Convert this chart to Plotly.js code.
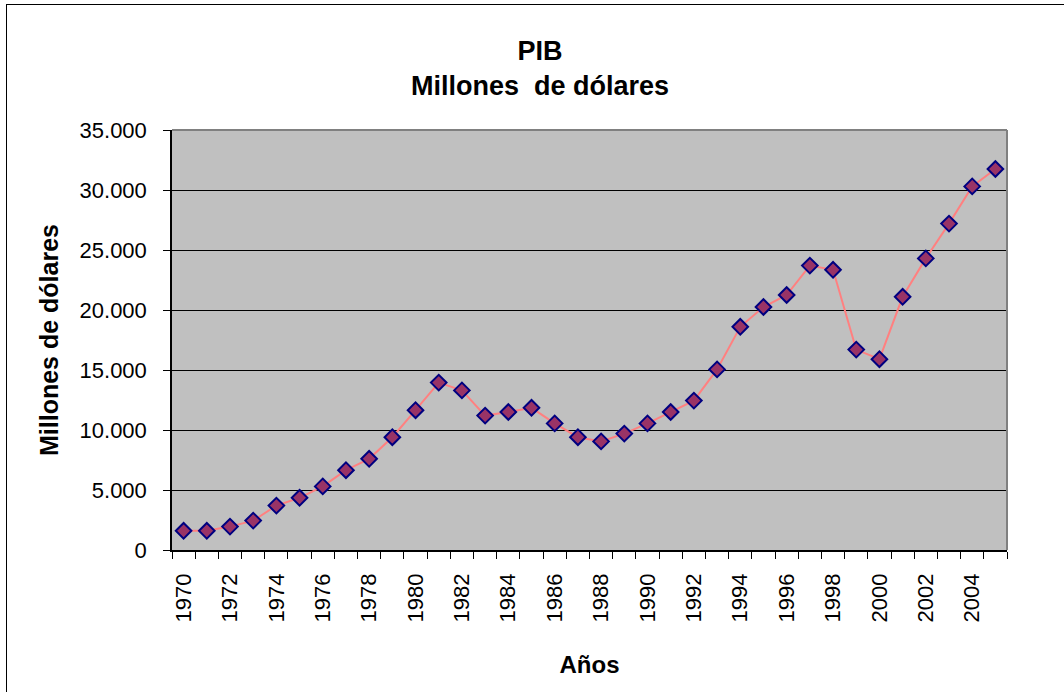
<!DOCTYPE html>
<html>
<head>
<meta charset="utf-8">
<script src="https://cdn.plot.ly/plotly-3.0.1.min.js"></script>
<style>
html,body{margin:0;padding:0;background:#fff;overflow:hidden;}
#frame{position:absolute;left:6px;top:4px;width:1100px;height:720px;border:1.5px solid #000;box-sizing:border-box;pointer-events:none;}
#chart{position:absolute;left:0;top:0;width:1064px;height:692px;}
</style>
</head>
<body>
<div id="chart"></div>
<div id="frame"></div>
<script>
const years = [1970,1971,1972,1973,1974,1975,1976,1977,1978,1979,1980,1981,1982,1983,1984,1985,1986,1987,1988,1989,1990,1991,1992,1993,1994,1995,1996,1997,1998,1999,2000,2001,2002,2003,2004,2005];
const pib = [1600,1600,1950,2450,3700,4350,5300,6650,7600,9400,11650,13950,13300,11200,11500,11850,10550,9400,9050,9700,10550,11500,12450,15050,18600,20250,21250,23700,23350,16700,15900,21100,24300,27200,30300,31750];
const tickYears = [1970,1972,1974,1976,1978,1980,1982,1984,1986,1988,1990,1992,1994,1996,1998,2000,2002,2004];
const yTicks = [0,5000,10000,15000,20000,25000,30000,35000];
const titleText = "PIB<br>Millones\u00a0 de dólares";
const xTitle = "Años";
const yTitle = "Millones de dólares";

const font = "Liberation Sans, Arial, sans-serif";

const trace = {
  type: "scatter",
  mode: "lines+markers",
  x: years,
  y: pib,
  line: {color: "#FF8080", width: 2},
  marker: {symbol: "diamond", size: 12, color: "#993366", line: {color: "#000080", width: 2}},
  hoverinfo: "x+y",
  showlegend: false
};

const layout = {
  width: 1064,
  height: 692,
  paper_bgcolor: "rgba(0,0,0,0)",
  plot_bgcolor: "#C0C0C0",
  separators: ",.",
  margin: {l: 172, r: 57, t: 130, b: 142, pad: 0},
  font: {family: font, color: "#000"},
  title: {
    text: titleText,
    font: {family: font, size: 27, color: "#000", weight: "bold"},
    x: 540/1064, xref: "container", xanchor: "center",
    y: 1 - 60/692, yref: "container", yanchor: "top"
  },
  xaxis: {
    type: "linear",
    range: [1969.5, 2005.5],
    tickvals: tickYears,
    ticktext: tickYears.map(String),
    tickangle: -90,
    ticks: "outside",
    ticklen: 7,
    tickcolor: "rgba(0,0,0,0)",
    ticklabelstandoff: 6,
    tickfont: {family: font, size: 22, color: "#000"},
    showgrid: false,
    zeroline: false,
    showline: true,
    linecolor: "#000",
    linewidth: 1.5,
    minor: {tick0: 1969.5, dtick: 1, ticks: "outside", ticklen: 7, tickcolor: "#000", tickwidth: 1, showgrid: false},
    title: {text: xTitle, font: {family: font, size: 24, color: "#000", weight: "bold"}, standoff: 35},
    fixedrange: true
  },
  yaxis: {
    range: [0, 35000],
    tickvals: yTicks,
    tickformat: ",d",
    ticks: "outside",
    ticklen: 7,
    tickcolor: "#000",
    tickwidth: 1,
    ticklabelstandoff: 12,
    tickfont: {family: font, size: 22, color: "#000"},
    showgrid: true,
    gridcolor: "#000",
    gridwidth: 1,
    zeroline: false,
    showline: true,
    linecolor: "#000",
    linewidth: 1.5,
    title: {text: yTitle, font: {family: font, size: 25, color: "#000", weight: "bold"}, standoff: 14},
    fixedrange: true
  },
  shapes: [
    {type: "line", xref: "paper", yref: "paper", x0: 0, x1: 1, y0: 1, y1: 1, line: {color: "#808080", width: 2}},
    {type: "line", xref: "paper", yref: "paper", x0: 1, x1: 1, y0: 0, y1: 1, line: {color: "#808080", width: 2}}
  ]
};

Plotly.newPlot("chart", [trace], layout, {displayModeBar: false, staticPlot: false});
</script>
</body>
</html>
